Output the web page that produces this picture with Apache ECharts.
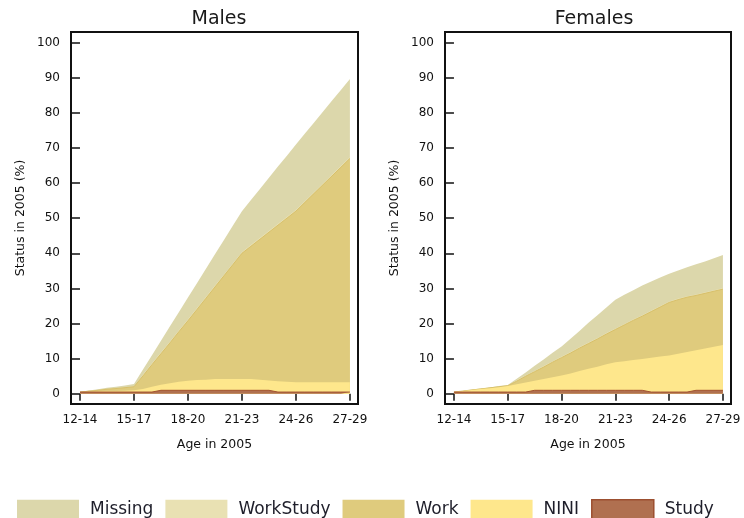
<!DOCTYPE html>
<html>
<head>
<meta charset="utf-8">
<script src="https://cdn.jsdelivr.net/npm/echarts@6/dist/echarts.min.js"></script>
<style>
  html, body { margin: 0; padding: 0; background: #ffffff; }
  #chart { width: 744px; height: 518px; }
</style>
</head>
<body>
<div id="chart"></div>
<script>
// Age groups shown on the x axis (tick every 3 years)
const ageGroups = ['12-14', '15-17', '18-20', '21-23', '24-26', '27-29'];
const ageTicks = [0, 3, 6, 9, 12, 15];

// Sampling points: years after the midpoint of the 12-14 group (half-year steps)
const ageOffset = [0, 0.5, 1, 1.5, 2, 2.5, 3, 3.5, 4, 4.5, 5, 5.5, 6, 6.5, 7, 7.5,
  8, 8.5, 9, 9.5, 10, 10.5, 11, 11.5, 12, 12.5, 13, 13.5, 14, 14.5, 15];

// Stacking order, bottom to top
const statusNames = ['Study', 'NINI', 'Work', 'WorkStudy', 'Missing'];
const legendOrder = ['Missing', 'WorkStudy', 'Work', 'NINI', 'Study'];

// Males: share (%) in each status
const malesStudy = [0.5, 0.5, 0.5, 0.5, 0.5, 0.5, 0.5, 0.5, 0.5,
  1.0, 1.0, 1.0, 1.0, 1.0, 1.0, 1.0, 1.0, 1.0, 1.0, 1.0, 1.0, 1.0,
  0.5, 0.5, 0.5, 0.5, 0.5, 0.5, 0.5, 0.5, 0.5];
const malesNINI = [0.0, 0.1, 0.2, 0.3, 0.3, 0.4, 0.5, 0.9, 1.5, 1.6, 2.0, 2.4, 2.7, 2.9, 3.0, 3.2,
  3.2, 3.2, 3.2, 3.2, 3.0, 2.8, 3.1, 2.9, 2.8, 2.8, 2.8, 2.8, 2.8, 2.8, 2.8];
const malesWork = [0.0, 0.15, 0.3, 0.5, 0.7, 0.85, 1.0, 3.7, 6.3, 8.8, 11.5, 14.3, 17.1, 20.1, 23.2, 26.2,
  29.4, 32.6, 35.8, 37.8, 40.0, 42.2, 44.4, 46.6, 48.7, 51.2, 53.7, 56.2, 58.7, 61.2, 63.7];
const malesWorkStudy = [0.0, 0.1, 0.1, 0.1, 0.1, 0.1, 0.1, 0.4, 0.4, 0.4, 0.4, 0.4, 0.4, 0.4, 0.4, 0.4,
  0.4, 0.4, 0.4, 0.4, 0.4, 0.4, 0.4, 0.4, 0.4, 0.4, 0.4, 0.4, 0.4, 0.4, 0.4];
const malesMissing = [0.0, 0.1, 0.2, 0.3, 0.4, 0.5, 0.7, 1.4, 2.3, 3.3, 4.3, 5.2, 6.2, 7.1, 8.0, 8.9,
  9.8, 10.7, 11.6, 12.8, 13.9, 15.1, 16.3, 17.4, 18.6, 19.2, 19.8, 20.4, 21.0, 21.6, 22.2];

// Females: share (%) in each status
const femalesStudy = [0.5, 0.5, 0.5, 0.5, 0.5, 0.5, 0.5, 0.5, 0.5,
  1.0, 1.0, 1.0, 1.0, 1.0, 1.0, 1.0, 1.0, 1.0, 1.0, 1.0, 1.0, 1.0,
  0.5, 0.5, 0.5, 0.5, 0.5, 1.0, 1.0, 1.0, 1.0];
const femalesNINI = [0.0, 0.3, 0.6, 0.9, 1.1, 1.4, 1.7, 2.2, 2.7, 2.7, 3.2, 3.7, 4.2, 4.8, 5.5, 6.1,
  6.7, 7.4, 8.0, 8.3, 8.6, 8.9, 9.8, 10.1, 10.4, 10.9, 11.4, 11.4, 11.9, 12.4, 12.9];
const femalesWork = [0.0, 0.0, 0.0, 0.0, 0.1, 0.1, 0.1, 0.9, 1.8, 2.6, 3.4, 4.3, 5.1, 5.8, 6.5, 7.2,
  7.9, 8.6, 9.3, 10.3, 11.3, 12.2, 13.1, 14.1, 15.1, 15.4, 15.6, 15.6, 15.7, 15.8, 15.9];
const femalesWorkStudy = [0.0, 0.0, 0.0, 0.0, 0.0, 0.0, 0.0, 0.3, 0.3, 0.3, 0.3, 0.3, 0.3, 0.3, 0.3, 0.3,
  0.3, 0.3, 0.3, 0.3, 0.3, 0.3, 0.3, 0.3, 0.3, 0.3, 0.3, 0.3, 0.3, 0.3, 0.3];
const femalesMissing = [0.0, 0.0, 0.1, 0.1, 0.1, 0.2, 0.2, 0.4, 0.8, 1.4, 1.9, 2.4, 2.9, 3.8, 4.6, 5.6,
  6.5, 7.3, 8.2, 8.3, 8.3, 8.4, 8.3, 8.1, 7.9, 8.0, 8.2, 8.6, 8.8, 9.1, 9.4];

const yTicks = [0, 10, 20, 30, 40, 50, 60, 70, 80, 90, 100];

const FONT = 'DejaVu Sans';
const INK = '#111111';

const statusColors = {
  Missing: '#dcd7ab',
  WorkStudy: '#e9e1b3',
  Work: '#dfcb7d',
  NINI: '#fee78c',
  Study: '#b07050'
};
const statusEdges = {
  Missing: null,
  WorkStudy: null,
  Work: '#d8c06a',
  NINI: null,
  Study: '#a3532f'
};

const panels = [
  { title: 'Males', values: [malesStudy, malesNINI, malesWork, malesWorkStudy, malesMissing],
    grid: { left: 71, top: 32, width: 287, height: 372 }, center: 214 },
  { title: 'Females', values: [femalesStudy, femalesNINI, femalesWork, femalesWorkStudy, femalesMissing],
    grid: { left: 445, top: 32, width: 286, height: 372 }, center: 589 }
];

// Running totals so each band sits on top of the ones below it
function cumulative(layers) {
  const out = [];
  let run = layers[0].map(() => 0);
  layers.forEach(layer => {
    run = run.map((v, i) => +(v + layer[i]).toFixed(3));
    out.push(run);
  });
  return out;
}

const grids = [], xAxes = [], yAxes = [], series = [], titles = [];

panels.forEach((p, gi) => {
  grids.push(Object.assign({
    show: true, borderColor: INK, borderWidth: 2, backgroundColor: 'transparent',
    containLabel: false, outerBoundsMode: 'none'
  }, p.grid));

  titles.push({
    text: p.title, left: p.center, top: 5, textAlign: 'center',
    textStyle: { fontFamily: FONT, fontSize: 19, fontWeight: 'normal', color: '#1a1a1a' }
  });

  xAxes.push({
    gridIndex: gi, type: 'value', min: -0.5, max: 15.45,
    name: 'Age in 2005', nameLocation: 'middle', nameGap: 34,
    nameTextStyle: { fontFamily: FONT, fontSize: 12.5, color: INK },
    axisLine: { show: false },
    splitLine: { show: false },
    axisTick: { show: true, customValues: ageTicks, length: 7, lineStyle: { color: INK, width: 1.5 } },
    axisLabel: {
      customValues: ageTicks, margin: 10,
      fontFamily: FONT, fontSize: 12, color: INK,
      formatter: v => ageGroups[Math.round(v / 3)]
    }
  });

  yAxes.push({
    gridIndex: gi, type: 'value', min: -2.9, max: 103,
    name: 'Status in 2005 (%)', nameLocation: 'middle', nameGap: 44, nameRotate: 90,
    nameTextStyle: { fontFamily: FONT, fontSize: 12.5, color: INK },
    axisLine: { show: false },
    splitLine: { show: false },
    axisTick: { show: true, customValues: yTicks, length: 8, lineStyle: { color: INK, width: 1.5 } },
    axisLabel: { customValues: yTicks, margin: 11, fontFamily: FONT, fontSize: 12, color: INK }
  });

  const tops = cumulative(p.values);
  // Draw the tallest band first so lower bands paint over it
  statusNames.forEach((name, si) => {
    const edge = statusEdges[name];
    series.push({
      name: name, type: 'line', xAxisIndex: gi, yAxisIndex: gi,
      symbol: 'none', silent: true,
      color: statusColors[name],
      lineStyle: edge ? { width: 1, color: edge } : { width: 0 },
      areaStyle: { color: statusColors[name], opacity: 1, origin: 0 },
      data: ageOffset.map((x, i) => [x, tops[si][i]]),
      z: 10 - si
    });
  });
});

const chart = echarts.init(document.getElementById('chart'), null, { renderer: 'canvas' });
chart.setOption({
  animation: false,
  backgroundColor: '#ffffff',
  title: titles,
  grid: grids,
  xAxis: xAxes,
  yAxis: yAxes,
  legend: {
    left: 12, top: 494, itemWidth: 62, itemHeight: 20, itemGap: 12,
    icon: 'rect', selectedMode: false,
    itemStyle: { borderWidth: 0 },
    textStyle: { fontFamily: FONT, fontSize: 17, color: '#1e1e2a', padding: [0, 0, 0, 6] },
    data: legendOrder.map(n => n === 'Study'
      ? { name: n, itemStyle: { borderColor: '#9c4f30', borderWidth: 1.5 } }
      : { name: n })
  },
  series: series
});
</script>
</body>
</html>
